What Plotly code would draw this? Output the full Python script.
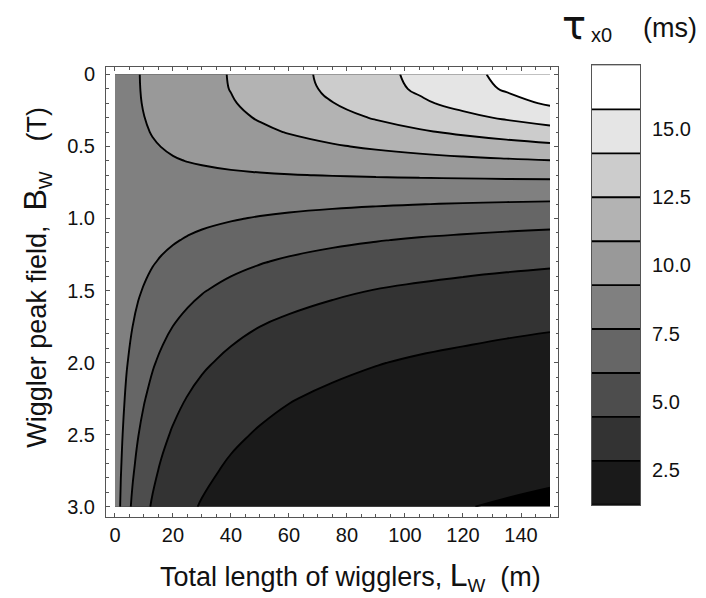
import plotly.graph_objects as go

# ---- data ----
L_M = [0, 2, 4, 6, 8, 10, 13, 16, 20, 25, 30, 40, 50, 60, 75, 90, 105, 120, 135, 150]
B_T = [0, 0.1, 0.2, 0.3, 0.4, 0.5, 0.6, 0.7, 0.8, 0.9, 1.0, 1.15, 1.3, 1.5, 1.75, 2.0, 2.25, 2.5, 2.75, 3.0]
# damping time tau_x0 (ms); rows follow B_T, columns follow L_M
TAU_MS = [
    [8.82, 8.92, 9.03, 9.14, 9.25, 9.36, 9.52, 9.68, 9.89, 10.16, 10.43, 10.97, 11.51, 12.05, 12.86, 13.66, 14.47, 15.28, 16.09, 16.90],
    [8.82, 8.92, 9.03, 9.13, 9.24, 9.35, 9.50, 9.66, 9.87, 10.14, 10.40, 10.93, 11.45, 11.97, 12.76, 13.54, 14.32, 15.09, 15.87, 16.64],
    [8.82, 8.92, 9.02, 9.12, 9.22, 9.32, 9.47, 9.62, 9.81, 10.06, 10.30, 10.79, 11.28, 11.76, 12.47, 13.17, 13.87, 14.56, 15.24, 15.91],
    [8.82, 8.91, 9.00, 9.09, 9.18, 9.27, 9.40, 9.54, 9.71, 9.93, 10.15, 10.58, 11.00, 11.41, 12.02, 12.61, 13.18, 13.74, 14.29, 14.82],
    [8.82, 8.90, 8.97, 9.05, 9.13, 9.20, 9.32, 9.43, 9.58, 9.76, 9.94, 10.29, 10.63, 10.96, 11.43, 11.89, 12.33, 12.74, 13.15, 13.53],
    [8.82, 8.88, 8.94, 9.00, 9.06, 9.12, 9.21, 9.29, 9.41, 9.55, 9.68, 9.94, 10.19, 10.43, 10.76, 11.08, 11.38, 11.66, 11.92, 12.17],
    [8.82, 8.86, 8.90, 8.94, 8.98, 9.02, 9.08, 9.13, 9.21, 9.30, 9.38, 9.55, 9.70, 9.84, 10.05, 10.23, 10.40, 10.56, 10.70, 10.83],
    [8.82, 8.83, 8.85, 8.87, 8.89, 8.90, 8.93, 8.95, 8.98, 9.02, 9.05, 9.12, 9.18, 9.24, 9.31, 9.38, 9.44, 9.49, 9.55, 9.59],
    [8.82, 8.81, 8.80, 8.79, 8.78, 8.77, 8.76, 8.75, 8.74, 8.72, 8.70, 8.67, 8.64, 8.62, 8.59, 8.56, 8.53, 8.51, 8.49, 8.47],
    [8.82, 8.78, 8.74, 8.70, 8.67, 8.63, 8.58, 8.53, 8.47, 8.40, 8.33, 8.21, 8.11, 8.01, 7.89, 7.78, 7.69, 7.61, 7.54, 7.48],
    [8.82, 8.74, 8.67, 8.61, 8.54, 8.48, 8.39, 8.30, 8.20, 8.07, 7.96, 7.76, 7.58, 7.43, 7.23, 7.07, 6.93, 6.81, 6.71, 6.61],
    [8.82, 8.69, 8.56, 8.45, 8.33, 8.23, 8.08, 7.94, 7.77, 7.57, 7.39, 7.09, 6.83, 6.61, 6.34, 6.12, 5.93, 5.78, 5.64, 5.53],
    [8.82, 8.62, 8.44, 8.27, 8.11, 7.96, 7.75, 7.56, 7.33, 7.07, 6.84, 6.45, 6.14, 5.88, 5.56, 5.30, 5.10, 4.93, 4.78, 4.66],
    [8.82, 8.53, 8.26, 8.02, 7.79, 7.59, 7.30, 7.05, 6.75, 6.42, 6.14, 5.68, 5.31, 5.02, 4.68, 4.41, 4.20, 4.02, 3.88, 3.76],
    [8.82, 8.39, 8.01, 7.68, 7.38, 7.10, 6.74, 6.42, 6.05, 5.67, 5.34, 4.83, 4.45, 4.15, 3.80, 3.54, 3.34, 3.18, 3.04, 2.93],
    [8.82, 8.24, 7.75, 7.32, 6.94, 6.61, 6.18, 5.82, 5.41, 4.99, 4.65, 4.13, 3.75, 3.46, 3.13, 2.89, 2.70, 2.56, 2.44, 2.34],
    [8.82, 8.08, 7.47, 6.95, 6.51, 6.14, 5.66, 5.26, 4.83, 4.40, 4.05, 3.54, 3.18, 2.90, 2.61, 2.39, 2.22, 2.09, 1.99, 1.91],
    [8.82, 7.90, 7.17, 6.58, 6.09, 5.68, 5.17, 4.75, 4.31, 3.88, 3.54, 3.06, 2.72, 2.47, 2.19, 2.00, 1.86, 1.74, 1.65, 1.58],
    [8.82, 7.72, 6.88, 6.22, 5.68, 5.25, 4.71, 4.29, 3.85, 3.43, 3.11, 2.65, 2.34, 2.11, 1.87, 1.70, 1.57, 1.47, 1.39, 1.32],
    [8.82, 7.52, 6.58, 5.86, 5.30, 4.84, 4.30, 3.88, 3.45, 3.05, 2.75, 2.32, 2.03, 1.83, 1.61, 1.45, 1.34, 1.25, 1.18, 1.13],
]
LEVEL_START = 1.23   # lowest contour level (ms)
LEVEL_STEP = 1.61    # spacing between contour levels (ms)
N_LEVELS = 10
X_TICKS = [0, 20, 40, 60, 80, 100, 120, 140]
Y_TICKS = [0, 0.5, 1.0, 1.5, 2.0, 2.5, 3.0]
Y_TICK_TEXT = ["0", "0.5", "1.0", "1.5", "2.0", "2.5", "3.0"]
CB_TICKS = [2.5, 5.0, 7.5, 10.0, 12.5, 15.0]
CB_TICK_TEXT = ["2.5", "5.0", "7.5", "10.0", "12.5", "15.0"]

level_end = LEVEL_START + (N_LEVELS - 1) * LEVEL_STEP
cb_top = LEVEL_START + N_LEVELS * LEVEL_STEP
GRAYS = [[0, "#000000"], [1, "#ffffff"]]
FONT = "Liberation Sans, Arial, Helvetica, sans-serif"
W, H = 706, 598
contours = dict(start=LEVEL_START, end=level_end, size=LEVEL_STEP, coloring="fill")

fig = go.Figure()
fig.add_trace(go.Contour(
    x=L_M, y=B_T, z=TAU_MS, contours=contours, colorscale=GRAYS,
    line=dict(color="black", width=1.9, smoothing=1.3), showscale=False,
    xaxis="x", yaxis="y", hoverinfo="skip"))
# legend strip: one contour strip spanning the level range
fig.add_trace(go.Contour(
    x=[0, 1], y=[LEVEL_START, cb_top],
    z=[[LEVEL_START, LEVEL_START], [cb_top, cb_top]],
    contours=contours, colorscale=GRAYS,
    line=dict(color="black", width=1.9), showscale=False,
    xaxis="x2", yaxis="y2", hoverinfo="skip"))

def px(v):
    return v / W
def py(v):
    return 1 - v / H

frame = dict(showline=True, linecolor="#555555", linewidth=1, mirror="ticks",
             showgrid=False, zeroline=False, ticks="inside", tickcolor="#555555",
             tickfont=dict(family=FONT, size=20, color="#111111"))
fig.update_layout(
    width=W, height=H, margin=dict(l=0, r=0, t=0, b=0),
    paper_bgcolor="white", plot_bgcolor="white", showlegend=False,
    xaxis=dict(domain=[px(106), px(558)], range=[-3.1, 152.76], tickvals=X_TICKS,
               ticklen=4, ticklabelstandoff=0,
               minor=dict(dtick=5, ticklen=2.5, ticks="inside", tickcolor="#555555"),
               anchor="y", **frame),
    yaxis=dict(domain=[py(517), py(64)], range=[3.069, -0.048], tickvals=Y_TICKS,
               ticktext=Y_TICK_TEXT, ticklen=4, ticklabelstandoff=6,
               minor=dict(dtick=0.1, ticklen=2.5, ticks="inside", tickcolor="#555555"),
               anchor="x", **frame),
    xaxis2=dict(domain=[px(592), px(640)], range=[0, 1], showticklabels=False,
                showline=True, mirror=True, linecolor="#555555", showgrid=False,
                zeroline=False, ticks="", anchor="y2"),
    yaxis2=dict(domain=[py(505), py(62)], range=[LEVEL_START, cb_top], side="right",
                tickvals=CB_TICKS, ticktext=CB_TICK_TEXT, ticks="",
                showline=True, mirror=True, linecolor="#555555", showgrid=False,
                zeroline=False, ticklabelstandoff=7,
                tickfont=dict(family=FONT, size=20, color="#111111"), anchor="x2"),
)
sp = "\u00a0"
fig.add_annotation(x=px(350), y=py(577), xref="paper", yref="paper", showarrow=False,
                   xanchor="center", yanchor="middle",
                   text="Total length of wigglers," + sp + "<span style='font-size:32px'>L</span><sub>W</sub>" + sp * 2 + "(m)",
                   font=dict(family=FONT, size=27, color="#111111"))
fig.add_annotation(x=px(37), y=py(276), xref="paper", yref="paper", showarrow=False,
                   xanchor="center", yanchor="middle", textangle=-90,
                   text="Wiggler peak field," + sp * 2 + "<span style='font-size:32px'>B</span><sub>W</sub>" + sp * 4 + "(T)",
                   font=dict(family=FONT, size=27, color="#111111"))
fig.add_annotation(x=px(574), y=py(21), xref="paper", yref="paper", showarrow=False,
                   xanchor="center", yanchor="middle", text="τ",
                   font=dict(family="DejaVu Sans", size=40, color="#111111"))
fig.add_annotation(x=px(589), y=py(31), xref="paper", yref="paper", showarrow=False,
                   xanchor="left", yanchor="middle", text="x0",
                   font=dict(family=FONT, size=20, color="#111111"))
fig.add_annotation(x=px(641), y=py(24), xref="paper", yref="paper", showarrow=False,
                   xanchor="left", yanchor="middle", text="(ms)",
                   font=dict(family=FONT, size=27, color="#111111"))
fig.write_html("out.html")
